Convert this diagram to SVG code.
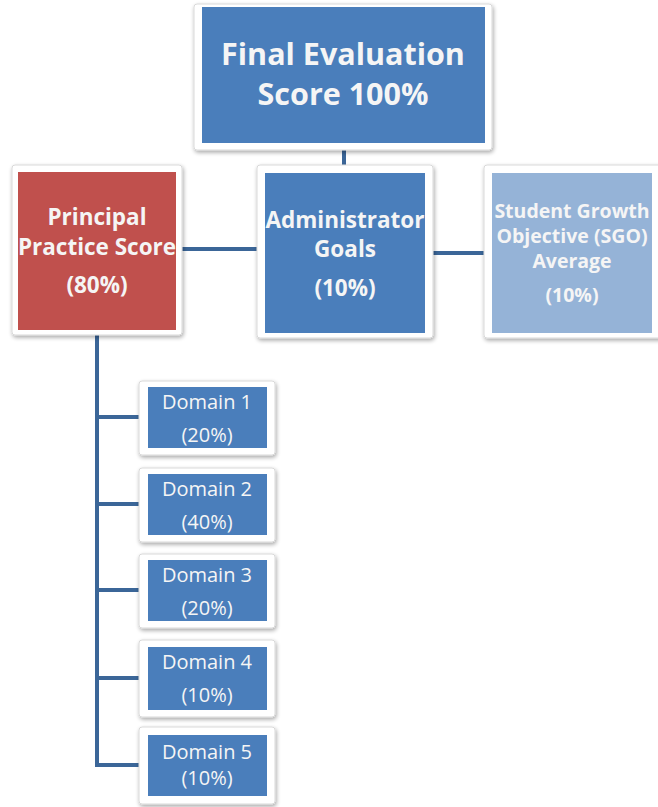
<svg xmlns="http://www.w3.org/2000/svg" width="658" height="807" viewBox="0 0 658 807">
  <defs>
    <filter id="shadow" x="-10%" y="-10%" width="125%" height="125%">
      <feGaussianBlur in="SourceAlpha" stdDeviation="2"/>
      <feOffset dx="1" dy="2" result="b"/>
      <feComponentTransfer><feFuncA type="linear" slope="0.35"/></feComponentTransfer>
      <feMerge><feMergeNode/><feMergeNode in="SourceGraphic"/></feMerge>
    </filter>
  </defs>
  <style>
    .frame { fill: #ffffff; stroke: #d9d9d9; stroke-width: 1; filter: url(#shadow); }
    .blue { fill: #4a7ebb; }
    .red { fill: #c0504d; }
    .light { fill: #95b3d7; }
    .link { stroke: #3b6698; stroke-width: 4; fill: none; }
    text { font-family: "Open Sans", "Liberation Sans", sans-serif; fill: #f5f5f5; text-anchor: middle; }
    .big { font-size: 30.5px; font-weight: bold; }
    .mid { font-size: 22.5px; font-weight: bold; }
    .small { font-size: 19.5px; font-weight: bold; }
    .dom { font-size: 20px; }
  </style>
  <rect width="658" height="807" fill="#ffffff"/>

  <g id="connectors">
    <line class="link" x1="344" y1="150" x2="344" y2="166"/>
    <line class="link" x1="182" y1="249" x2="258" y2="249"/>
    <line class="link" x1="432" y1="253" x2="484" y2="253"/>
    <polyline class="link" points="97,335 97,765 140,765"/>
    <line class="link" x1="97" y1="417" x2="140" y2="417"/>
    <line class="link" x1="97" y1="504" x2="140" y2="504"/>
    <line class="link" x1="97" y1="590" x2="140" y2="590"/>
    <line class="link" x1="97" y1="678" x2="140" y2="678"/>
  </g>

  <g id="final-score">
    <rect class="frame" x="194" y="4" width="298" height="146" rx="3"/>
    <rect class="blue" x="202" y="7" width="283" height="136"/>
    <text class="big" x="343" y="65">Final Evaluation</text>
    <text class="big" x="343" y="105">Score 100%</text>
  </g>

  <g id="principal-practice">
    <rect class="frame" x="12" y="165" width="170" height="170" rx="3"/>
    <rect class="red" x="18" y="172" width="158" height="158"/>
    <text class="mid" x="97" y="225">Principal</text>
    <text class="mid" x="97" y="255">Practice Score</text>
    <text class="mid" x="97" y="293">(80%)</text>
  </g>

  <g id="administrator-goals">
    <rect class="frame" x="257" y="165" width="176" height="173" rx="3"/>
    <rect class="blue" x="265" y="173" width="160" height="160"/>
    <text class="mid" x="345" y="228">Administrator</text>
    <text class="mid" x="345" y="257">Goals</text>
    <text class="mid" x="345" y="296">(10%)</text>
  </g>

  <g id="sgo-average">
    <rect class="frame" x="484" y="165" width="180" height="173" rx="3"/>
    <rect class="light" x="492" y="173" width="160" height="160"/>
    <text class="small" x="572" y="218">Student Growth</text>
    <text class="small" x="572" y="243">Objective (SGO)</text>
    <text class="small" x="572" y="268">Average</text>
    <text class="small" x="572" y="302">(10%)</text>
  </g>

  <g id="domain-1">
    <rect class="frame" x="139" y="381" width="136" height="74" rx="3"/>
    <rect class="blue" x="148" y="387" width="119" height="61"/>
    <text class="dom" x="207" y="409">Domain 1</text>
    <text class="dom" x="207" y="442">(20%)</text>
  </g>

  <g id="domain-2">
    <rect class="frame" x="139" y="468" width="136" height="74" rx="3"/>
    <rect class="blue" x="148" y="474" width="119" height="61"/>
    <text class="dom" x="207" y="496">Domain 2</text>
    <text class="dom" x="207" y="529">(40%)</text>
  </g>

  <g id="domain-3">
    <rect class="frame" x="139" y="554" width="136" height="74" rx="3"/>
    <rect class="blue" x="148" y="560" width="119" height="61"/>
    <text class="dom" x="207" y="582">Domain 3</text>
    <text class="dom" x="207" y="615">(20%)</text>
  </g>

  <g id="domain-4">
    <rect class="frame" x="139" y="640" width="136" height="77" rx="3"/>
    <rect class="blue" x="148" y="647" width="119" height="63"/>
    <text class="dom" x="207" y="669">Domain 4</text>
    <text class="dom" x="207" y="702">(10%)</text>
  </g>

  <g id="domain-5">
    <rect class="frame" x="139" y="727" width="136" height="77" rx="3"/>
    <rect class="blue" x="148" y="735" width="119" height="61"/>
    <text class="dom" x="207" y="759">Domain 5</text>
    <text class="dom" x="207" y="785">(10%)</text>
  </g>
</svg>
